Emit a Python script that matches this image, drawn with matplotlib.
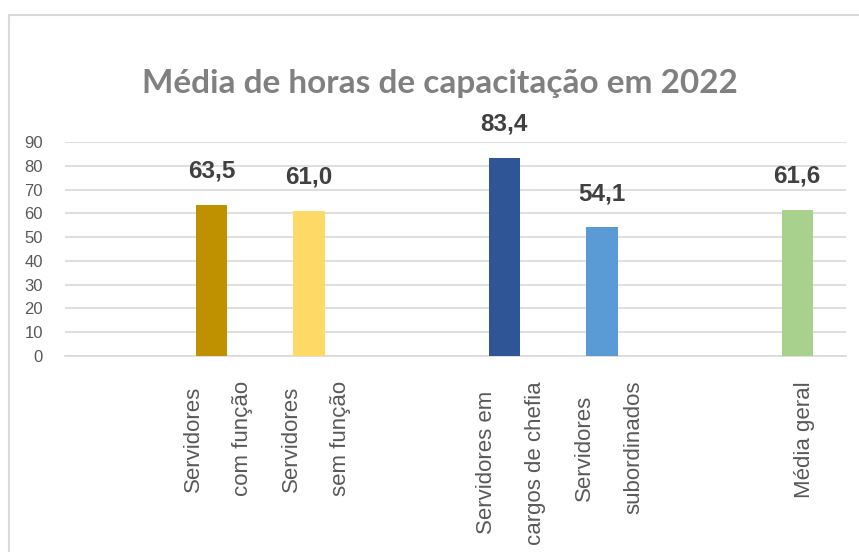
import numpy as np
import matplotlib
matplotlib.use("Agg")
import matplotlib.pyplot as plt
from matplotlib.patches import Rectangle
from matplotlib.transforms import ScaledTranslation

# ---- data ----
categories = ["", "Servidores\ncom função", "Servidores\nsem função", "",
              "Servidores em\ncargos de chefia", "Servidores\nsubordinados", "",
              "Média geral"]
values = [np.nan, 63.5, 61.0, np.nan, 83.4, 54.1, np.nan, 61.6]
value_labels = ["", "63,5", "61,0", "", "83,4", "54,1", "", "61,6"]
colors = ["#FFFFFF", "#BF9000", "#FFD966", "#FFFFFF", "#2F5597", "#5B9BD5",
          "#FFFFFF", "#A9D18E"]
yticks = list(range(0, 100, 10))
title = "Média de horas de capacitação em 2022"

fig = plt.figure(figsize=(8.59, 5.52), dpi=100)
fig.patch.set_facecolor("white")

# outer chart frame (right/bottom edges cut off)
fig.patches.append(Rectangle((9 / 859, -0.1), 1.2, (552 - 15) / 552 + 0.1,
                             transform=fig.transFigure, fill=False,
                             edgecolor="#D9D9D9", linewidth=1.5))

ax = fig.add_axes([65 / 859, (552 - 356) / 552, 781 / 859, 214 / 552])
x = np.arange(len(categories))
vals = np.array(values, dtype=float)
mask = ~np.isnan(vals)
ax.bar(x[mask], vals[mask], width=0.32,
       color=[c for c, m in zip(colors, mask) if m], zorder=3)

for xi, v, lab in zip(x, vals, value_labels):
    if np.isnan(v):
        continue
    ax.annotate(lab, (xi, v), xytext=(0, 19.5), textcoords="offset points",
                ha="center", va="baseline", fontsize=17.5, fontweight="bold",
                color="#404040", family=["Liberation Sans", "DejaVu Sans"])

ax.set_xlim(-0.5, len(categories) - 0.5)
ax.set_ylim(0, 90)
ax.set_yticks(yticks)
ax.yaxis.grid(True, color="#D9D9D9", linewidth=1.2, zorder=0)
ax.set_axisbelow(True)
for s in ["top", "right", "left"]:
    ax.spines[s].set_visible(False)
ax.spines["bottom"].set_color("#D9D9D9")
ax.spines["bottom"].set_linewidth(1.2)
ax.tick_params(axis="y", length=0, pad=16, labelsize=12, labelcolor="#595959")
ax.tick_params(axis="x", length=0, pad=18)
for lab in ax.get_yticklabels():
    lab.set_family(["Liberation Sans", "DejaVu Sans"])

ax.set_xticks(x)
ax.set_xticklabels(categories, rotation=90, ha="center", va="top",
                   multialignment="center", linespacing=2.75,
                   fontsize=16, color="#595959",
                   family=["Liberation Sans", "DejaVu Sans"])
offset = ScaledTranslation(7 / 100, 0, fig.dpi_scale_trans)
for lab in ax.get_xticklabels():
    lab.set_transform(lab.get_transform() + offset)

fig.text(440 / 859, (552 - 83) / 552, title, ha="center", va="center",
         fontsize=24, fontweight="bold", color="#808080",
         family=["Lato", "DejaVu Sans"])

fig.savefig("out.png", dpi=100, facecolor="white")
